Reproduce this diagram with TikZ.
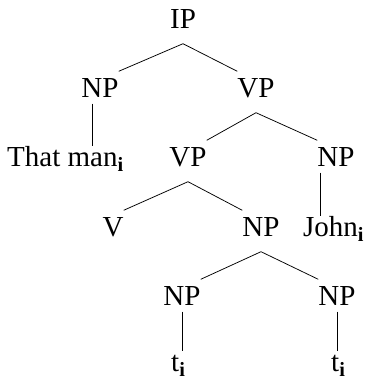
\documentclass[tikz,border=0pt]{standalone}
\usepackage{fontspec}
\setmainfont{Liberation Serif}
\usepackage{tikz}

\tikzset{
  cat/.style={inner xsep=0pt, inner ysep=6.5pt, text height=19pt, text depth=0pt, anchor=base},
  leaf/.style={inner xsep=0pt, inner ysep=1pt, text height=19pt, text depth=0pt, anchor=base west},
  branch/.style={line width=0.75pt}
}
\newcommand{\coidx}{\textsubscript{\textbf{i}}}

\begin{document}
\begin{tikzpicture}[font=\fontsize{29}{33}\selectfont]
            \useasboundingbox (0,0) rectangle (365pt,-381pt);
            \node (ip) [cat] at (183pt,-28pt) {IP};
            \node (np_subj) [cat] at ([shift={(-83pt,-69pt)}]ip.base) {NP};
            \node (vp_top) [cat] at ([shift={(73pt,-69pt)}]ip.base) {VP};
            \node (that_man) [leaf] at ([shift={(-93pt,-69pt)}]np_subj.base) {That man\coidx};
            \node (vp_low) [cat] at ([shift={(-68pt,-69pt)}]vp_top.base) {VP};
            \node (np_obj) [cat] at ([shift={(80pt,-69pt)}]vp_top.base) {NP};
            \node (verb) [cat] at ([shift={(-75pt,-70pt)}]vp_low.base) {V};
            \node (np_sc) [cat] at ([shift={(73pt,-70pt)}]vp_low.base) {NP};
            \node (john) [leaf] at ([shift={(-33pt,-70pt)}]np_obj.base) {John\coidx};
            \node (np_left) [cat] at ([shift={(-79pt,-69pt)}]np_sc.base) {NP};
            \node (np_right) [cat] at ([shift={(76pt,-69pt)}]np_sc.base) {NP};
            \node (trace_left) [leaf] at ([shift={(-11pt,-66pt)}]np_left.base) {t\coidx};
            \node (trace_right) [leaf] at ([shift={(-6pt,-66pt)}]np_right.base) {t\coidx};

                % branching
                \draw[branch] (np_subj.north east) -- ([yshift=-9pt]ip.south) -- (vp_top.north west);
                \draw[branch] (vp_low.north east) -- ([yshift=-9pt]vp_top.south) -- (np_obj.north west);
                \draw[branch] (verb.north east) -- ([yshift=-9pt]vp_low.south) -- (np_sc.north west);
                \draw[branch] (np_left.north east) -- ([yshift=-9pt]np_sc.south) -- (np_right.north west);

                % unary
                \draw[branch] ([xshift=-8pt]np_subj.south) -- ([xshift=-8pt]np_subj.south |- that_man.north);
                \draw[branch] ([xshift=-16pt]np_obj.south) -- ([xshift=-16pt]np_obj.south |- john.north);
                \draw[branch] (np_left.south) -- (np_left.south |- trace_left.north);
                \draw[branch] (np_right.south) -- (np_right.south |- trace_right.north);
            \end{tikzpicture}
\end{document}
